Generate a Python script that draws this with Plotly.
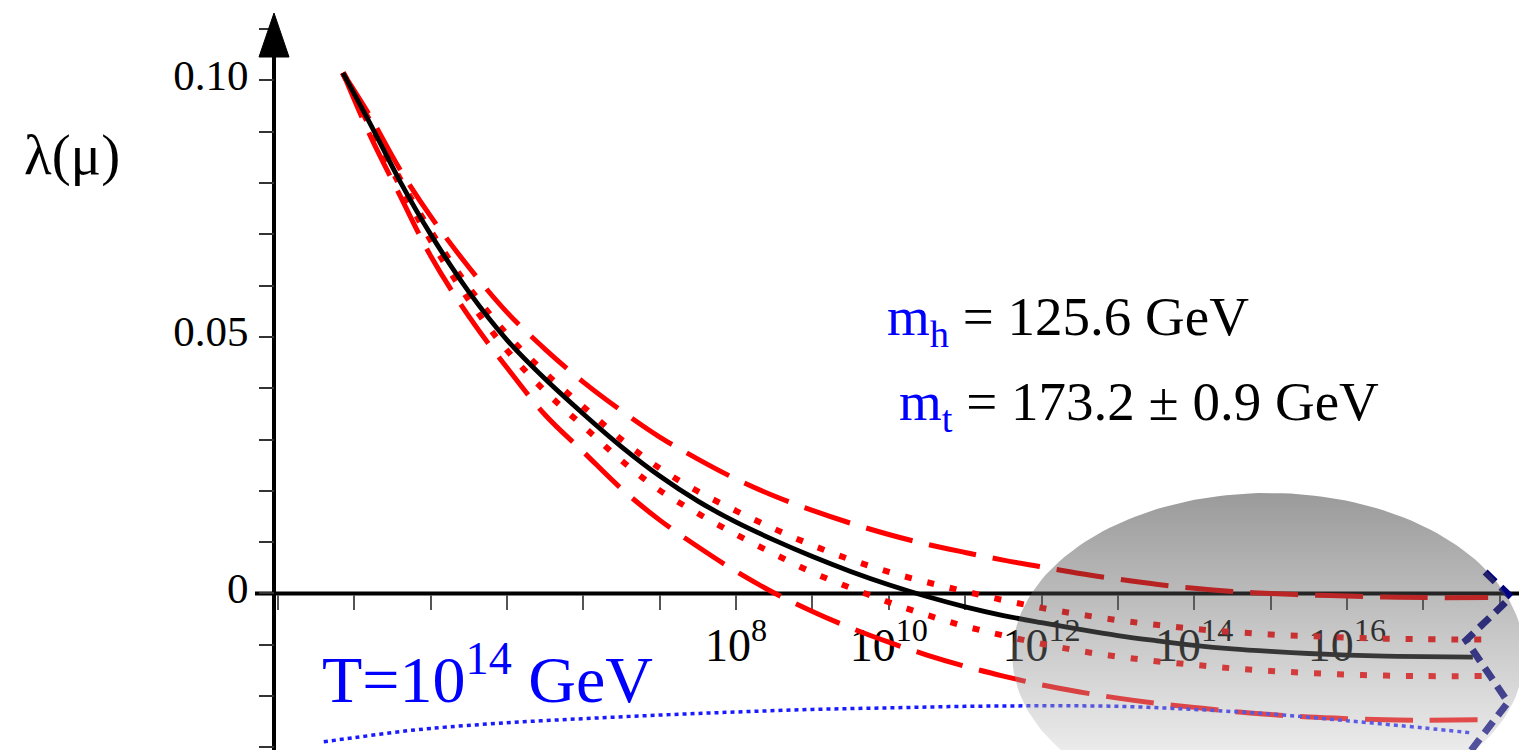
import numpy as np
import plotly.graph_objects as go

# ---------------- data (log10 of mu in GeV, lambda) ----------------
log_mu = [2.85, 3.2, 3.6, 4.0, 4.5, 5.0, 5.5, 6.0, 6.5, 7.0, 7.5, 8.0, 8.5, 9.0, 9.5,
          10.0, 10.5, 11.0, 11.5, 12.0, 12.5, 13.0, 13.5, 14.0, 14.5, 15.0, 15.5,
          16.0, 16.5, 17.0, 17.65]
lam_central = [0.1015, 0.0918, 0.0803, 0.0700, 0.0588, 0.0494, 0.0418, 0.0350, 0.0286,
               0.0229, 0.0180, 0.0139, 0.0104, 0.0072, 0.0043, 0.0017, -0.0006, -0.0026,
               -0.0043, -0.0057, -0.0070, -0.0082, -0.0092, -0.0101, -0.0108, -0.0113,
               -0.0117, -0.0120, -0.0122, -0.0123, -0.0124]

log_mu_red = log_mu[:-1] + [17.85]
lam_dash_hi = [0.1015, 0.0932, 0.0826, 0.0735, 0.0636, 0.0548, 0.0476, 0.0412, 0.0356,
               0.0305, 0.0262, 0.0223, 0.0190, 0.0162, 0.0137, 0.0115, 0.0096, 0.0080,
               0.0065, 0.0052, 0.0039, 0.0028, 0.0018, 0.0010, 0.0004, 0.0000, -0.0003,
               -0.0005, -0.0007, -0.0008, -0.0008]
lam_dash_lo = [0.1015, 0.0895, 0.0775, 0.0658, 0.0540, 0.0440, 0.0348, 0.0276, 0.0204,
               0.0143, 0.0091, 0.0043, 0.0001, -0.0035, -0.0067, -0.0095, -0.0120, -0.0142,
               -0.0161, -0.0178, -0.0192, -0.0204, -0.0214, -0.0222, -0.0230, -0.0236,
               -0.0241, -0.0244, -0.0246, -0.0247, -0.0246]
lam_dot_hi = [0.1015, 0.0921, 0.0808, 0.0707, 0.0597, 0.0505, 0.0430, 0.0364, 0.0300,
              0.0244, 0.0199, 0.0161, 0.0126, 0.0094, 0.0066, 0.0042, 0.0022, 0.0004,
              -0.0013, -0.0028, -0.0041, -0.0052, -0.0061, -0.0069, -0.0075, -0.0080,
              -0.0083, -0.0086, -0.0088, -0.0089, -0.0090]
lam_dot_lo = [0.1015, 0.0912, 0.0795, 0.0688, 0.0572, 0.0474, 0.0394, 0.0326, 0.0259,
              0.0201, 0.0156, 0.0115, 0.0077, 0.0041, 0.0011, -0.0017, -0.0042, -0.0064,
              -0.0082, -0.0098, -0.0112, -0.0123, -0.0132, -0.0139, -0.0146, -0.0151,
              -0.0155, -0.0158, -0.0160, -0.0161, -0.0161]

log_mu_T = [2.6, 3.0, 3.5, 4.0, 5.0, 6.0, 7.0, 8.0, 9.0, 10.0, 11.0, 12.0, 13.0, 14.0,
            15.0, 16.0, 17.0, 17.65]
lam_T = [-0.0289, -0.0281, -0.0271, -0.0263, -0.0252, -0.0244, -0.0237, -0.0231, -0.0226,
         -0.0223, -0.0220, -0.0219, -0.0220, -0.0226, -0.0235, -0.0248, -0.0262, -0.0272]

log_mu_zig = [17.81, 18.15, 17.56, 18.11, 17.61]
lam_zig = [0.0042, -0.0007, -0.0091, -0.0212, -0.0309]

# tick values
x_tick_exp = list(range(2, 19))
x_label_exp = [8, 10, 12, 14, 16]
y_tick_vals = [round(-0.03 + 0.01 * i, 2) for i in range(15)]
y_label_map = {0.0: "0", 0.05: "0.05", 0.1: "0.10"}

# ---------------- geometry ----------------
W, H = 1519, 750
X_LOG_RANGE = [-1.641, 18.254]
Y_RANGE = [-0.03051, 0.11569]
YAXIS_X_PX = 274
XAXIS_Y_PX = 593.5

def px_x(p):
    return p / W

def px_y(p):
    return 1 - p / H

SERIF = "Liberation Serif, Times New Roman, serif"

fig = go.Figure()

def pw(arr):
    return [10 ** v for v in arr]

red_dash = "48px,17px"
red_dot = "7px,16px"

def curve(xs, ys, color, width, dash=None):
    line = dict(color=color, width=width, shape="spline", smoothing=1.0)
    if dash:
        line["dash"] = dash
    return go.Scatter(x=pw(xs), y=ys, mode="lines", line=line, hoverinfo="skip")

fig.add_trace(curve(log_mu_red, lam_dash_hi, "#ff0000", 5, red_dash))
fig.add_trace(curve(log_mu_red, lam_dash_lo, "#ff0000", 5, red_dash))
fig.add_trace(curve(log_mu_red, lam_dot_hi, "#ff0000", 6, red_dot))
fig.add_trace(curve(log_mu_red, lam_dot_lo, "#ff0000", 6, red_dot))
fig.add_trace(curve(log_mu, lam_central, "#000000", 4.8))
fig.add_trace(curve(log_mu_T, lam_T, "#1a1aff", 3.5, "4px,4px"))
fig.add_trace(go.Scatter(x=pw(log_mu_zig), y=lam_zig, mode="lines",
                         line=dict(color="#000080", width=7, dash="14px,8px"), hoverinfo="skip"))

# grey translucent ellipse (gradient overlay)
ell_cx, ell_rx = 14.97, 3.353
ell_cy, ell_ry = -0.01199, 0.03158
t = np.linspace(0, 2 * np.pi, 200)
ex = 10 ** (ell_cx + ell_rx * np.cos(t))
ey = ell_cy + ell_ry * np.sin(t)
fig.add_trace(go.Scatter(
    x=ex, y=ey, mode="lines", line=dict(width=0), fill="toself",
    fillgradient=dict(type="vertical",
                      colorscale=[[0, "rgba(255,255,255,0.4)"], [1, "rgba(15,15,15,0.42)"]],
                      start=ell_cy - ell_ry, stop=ell_cy + ell_ry),
    hoverinfo="skip"))

fig.update_layout(
    width=W, height=H, margin=dict(l=0, r=0, t=0, b=0),
    paper_bgcolor="white", plot_bgcolor="white", showlegend=False,
    xaxis=dict(type="log", range=X_LOG_RANGE, anchor="free", position=px_y(XAXIS_Y_PX),
               showgrid=False, zeroline=False, showline=False,
               tickmode="array", tickvals=[10 ** e for e in x_tick_exp],
               ticktext=[("10<sup>%d</sup>" % e) if e in x_label_exp else "" for e in x_tick_exp],
               ticks="outside", ticklen=15, tickwidth=2, tickcolor="#555555",
               tickfont=dict(family=SERIF, size=46, color="#000000"),
               ticklabelstandoff=-4,
               layer="below traces", fixedrange=True),
    yaxis=dict(range=Y_RANGE, anchor="free", position=px_x(YAXIS_X_PX),
               showgrid=False, zeroline=False, showline=False,
               tickmode="array", tickvals=y_tick_vals,
               ticktext=[y_label_map.get(v, "") for v in y_tick_vals],
               ticks="outside", ticklen=15, tickwidth=2, tickcolor="#333333",
               tickfont=dict(family=SERIF, size=43, color="#000000"),
               ticklabelstandoff=2, ticklabelshift=-6,
               layer="below traces", fixedrange=True),
)

# axis lines and arrow
fig.add_shape(type="line", xref="paper", yref="paper",
              x0=px_x(YAXIS_X_PX), x1=px_x(YAXIS_X_PX), y0=0, y1=px_y(57),
              line=dict(color="black", width=4), layer="below")
fig.add_shape(type="line", xref="paper", yref="paper",
              x0=px_x(255), x1=1, y0=px_y(XAXIS_Y_PX), y1=px_y(XAXIS_Y_PX),
              line=dict(color="black", width=4), layer="below")
fig.add_shape(type="path", xref="paper", yref="paper",
              path="M %f %f L %f %f L %f %f Z" % (px_x(259), px_y(57), px_x(289), px_y(57),
                                                 px_x(274), px_y(13)),
              fillcolor="black", line=dict(color="black", width=1), layer="above")

# texts
fig.add_annotation(xref="paper", yref="paper", x=px_x(72), y=px_y(155),
                   text="λ(μ)", showarrow=False, xanchor="center", yanchor="middle",
                   font=dict(family=SERIF, size=57, color="black"))
fig.add_annotation(xref="paper", yref="paper", x=px_x(885), y=px_y(320),
                   text="<span style='color:#0000ff'>m<sub>h</sub></span> = 125.6 GeV",
                   showarrow=False, xanchor="left", yanchor="middle",
                   font=dict(family=SERIF, size=55, color="black"))
fig.add_annotation(xref="paper", yref="paper", x=px_x(897), y=px_y(405),
                   text="<span style='color:#0000ff'>m<sub>t</sub></span> = 173.2 ± 0.9 GeV",
                   showarrow=False, xanchor="left", yanchor="middle",
                   font=dict(family=SERIF, size=55, color="black"))
fig.add_annotation(xref="paper", yref="paper", x=px_x(320), y=px_y(674),
                   text="T=10<sup>14</sup> GeV", showarrow=False, xanchor="left", yanchor="middle",
                   font=dict(family=SERIF, size=66, color="#0000ff"))

fig.write_html("out.html")
